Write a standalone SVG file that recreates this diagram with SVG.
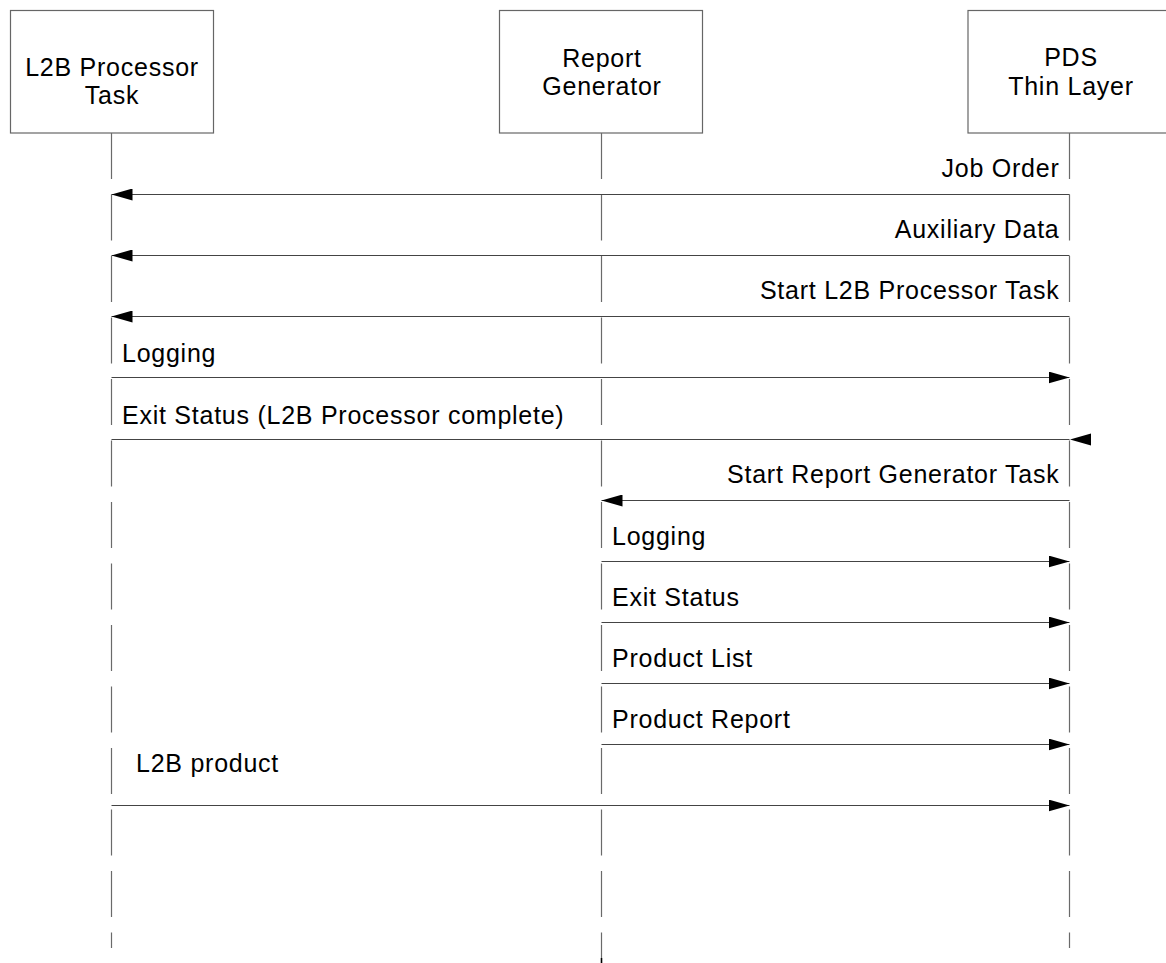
<svg xmlns="http://www.w3.org/2000/svg" width="1166" height="963" viewBox="0 0 1166 963">
  <style>
    .box { fill: #ffffff; stroke: #666666; stroke-width: 1.2; }
    .life { stroke: #6a6a6a; stroke-width: 1.2; stroke-dasharray: 46 15.5; fill: none; }
    .msg { stroke: #444444; stroke-width: 1.2; fill: none; }
    .head { fill: #000000; stroke: none; }
    text { font-family: "Liberation Sans", Arial, sans-serif; font-size: 25px; letter-spacing: 0.75px; fill: #000000; }
    .c { text-anchor: middle; }
    .r { text-anchor: end; }
  </style>
  <defs>
    <marker id="arrow" markerUnits="userSpaceOnUse" markerWidth="22" markerHeight="12" refX="21" refY="6" orient="auto">
      <path class="head" d="M0,0 L21,6 L0,12 Z"/>
    </marker>
  </defs>

  <rect width="1166" height="963" fill="#ffffff"/>

  <!-- participants -->
  <g id="node-l2b">
    <rect class="box" x="10.5" y="10.5" width="203" height="122.5"/>
    <text class="c" x="112" y="76">L2B Processor</text>
    <text class="c" x="112" y="104">Task</text>
    <line class="life" x1="111.5" y1="133" x2="111.5" y2="948"/>
  </g>
  <g id="node-report">
    <rect class="box" x="499.5" y="10.5" width="203" height="122.5"/>
    <text class="c" x="602" y="67">Report</text>
    <text class="c" x="602" y="95">Generator</text>
    <line class="life" x1="601.5" y1="133" x2="601.5" y2="963"/>
    <line x1="601.5" y1="958" x2="601.5" y2="963" stroke="#000000" stroke-width="1.5"/>
  </g>
  <g id="node-pds">
    <rect class="box" x="968" y="10.5" width="204" height="122.5"/>
    <text class="c" x="1071" y="66">PDS</text>
    <text class="c" x="1071" y="95">Thin Layer</text>
    <line class="life" x1="1069.5" y1="133" x2="1069.5" y2="948"/>
  </g>

  <!-- messages -->
  <g id="connectors">
    <line class="msg" x1="1069.5" y1="194.5" x2="111.5" y2="194.5" marker-end="url(#arrow)"/>
    <text class="r" x="1059.5" y="177">Job Order</text>

    <line class="msg" x1="1069.5" y1="255.5" x2="111.5" y2="255.5" marker-end="url(#arrow)"/>
    <text class="r" x="1059.5" y="238">Auxiliary Data</text>

    <line class="msg" x1="1069.5" y1="316.5" x2="111.5" y2="316.5" marker-end="url(#arrow)"/>
    <text class="r" x="1059.5" y="299">Start L2B Processor Task</text>

    <line class="msg" x1="111.5" y1="377.5" x2="1069.5" y2="377.5" marker-end="url(#arrow)"/>
    <text x="122" y="362">Logging</text>

    <line class="msg" x1="111.5" y1="439.5" x2="1069.5" y2="439.5"/>
    <path class="head" d="M1070,439.5 L1091,433.5 L1091,445.5 Z"/>
    <text x="122" y="424">Exit Status (L2B Processor complete)</text>

    <line class="msg" x1="1069.5" y1="500.5" x2="601.5" y2="500.5" marker-end="url(#arrow)"/>
    <text class="r" x="1059.5" y="483">Start Report Generator Task</text>

    <line class="msg" x1="601.5" y1="561.5" x2="1069.5" y2="561.5" marker-end="url(#arrow)"/>
    <text x="612" y="545">Logging</text>

    <line class="msg" x1="601.5" y1="622.5" x2="1069.5" y2="622.5" marker-end="url(#arrow)"/>
    <text x="612" y="606">Exit Status</text>

    <line class="msg" x1="601.5" y1="683.5" x2="1069.5" y2="683.5" marker-end="url(#arrow)"/>
    <text x="612" y="667">Product List</text>

    <line class="msg" x1="601.5" y1="744.5" x2="1069.5" y2="744.5" marker-end="url(#arrow)"/>
    <text x="612" y="728">Product Report</text>

    <line class="msg" x1="111.5" y1="805.5" x2="1069.5" y2="805.5" marker-end="url(#arrow)"/>
    <text x="136" y="772">L2B product</text>
  </g>
</svg>
